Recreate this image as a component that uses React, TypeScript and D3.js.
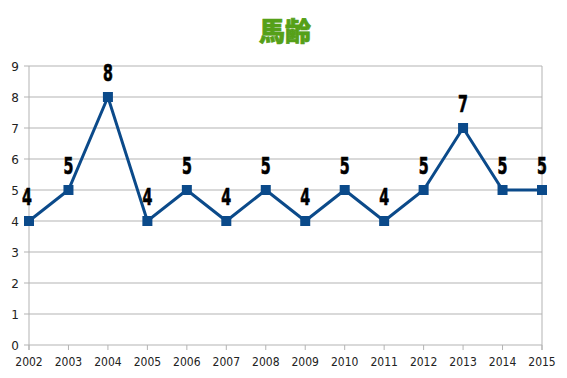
import React from "react";
import * as d3 from "d3";

const years = ["2002","2003","2004","2005","2006","2007","2008","2009","2010","2011","2012","2013","2014","2015"];
const values = [4,5,8,4,5,4,5,4,5,4,5,7,5,5];
const yTicks = [0,1,2,3,4,5,6,7,8,9];
const title = "馬齢";

export default function App() {
  const W = 567, H = 378;
  const x = d3.scalePoint<string>().domain(years).range([29, 542]);
  const y = d3.scaleLinear().domain([0, 9]).range([345, 66]);
  const line = d3.line<number>().x((_, i) => x(years[i])!).y(d => y(d));
  const grid = "#b3b3b3";
  return (
    <svg width={W} height={H} style={{ position: "absolute", left: 0, top: 0 }}>
      <rect width={W} height={H} fill="#fff" />
      <text x={285} y={41} textAnchor="middle" fontFamily="'Noto Sans CJK JP', sans-serif" fontWeight="900" fontSize={26} fill="#55a018" stroke="#55a018" strokeWidth={0.7}>{title}</text>
      {yTicks.map(t => (
        <g key={t}>
          <line x1={24} x2={542} y1={y(t)} y2={y(t)} stroke={grid} strokeWidth={1} />
          <text x={19} y={y(t) + 4.5} textAnchor="end" fontFamily="'DejaVu Sans', sans-serif" fontSize={12} fill="#222">{t}</text>
        </g>
      ))}
      <line x1={29} x2={29} y1={66} y2={350} stroke={grid} />
      <line x1={542} x2={542} y1={66} y2={350} stroke={grid} />
      {years.map(yr => (
        <g key={yr}>
          <line x1={x(yr)} x2={x(yr)} y1={345} y2={350} stroke={grid} />
          <text x={x(yr)} y={366} textAnchor="middle" fontFamily="'DejaVu Sans Condensed', 'DejaVu Sans', sans-serif" fontSize={12} fill="#222">{yr}</text>
        </g>
      ))}
      <path d={line(values)!} fill="none" stroke="#0b4a8a" strokeWidth={3} strokeLinejoin="miter" />
      {values.map((v, i) => (
        <rect key={i} x={x(years[i])! - 5} y={y(v) - 5} width={10} height={10} fill="#0b4a8a" />
      ))}
      {values.map((v, i) => {
        const lx = x(years[i])! - (i === 0 ? 2 : 0);
        const ly = y(v) - 15.5;
        return (
          <text key={"l" + i} x={lx} y={ly} textAnchor="middle"
            fontFamily="'DejaVu Sans Condensed', 'DejaVu Sans', sans-serif" fontWeight="bold" fontSize={22} fill="#000"
            stroke="#000" strokeWidth={0.6}
            transform={`translate(${lx} ${ly}) scale(0.72 1.05) translate(${-lx} ${-ly})`}>{v}</text>
        );
      })}
    </svg>
  );
}
